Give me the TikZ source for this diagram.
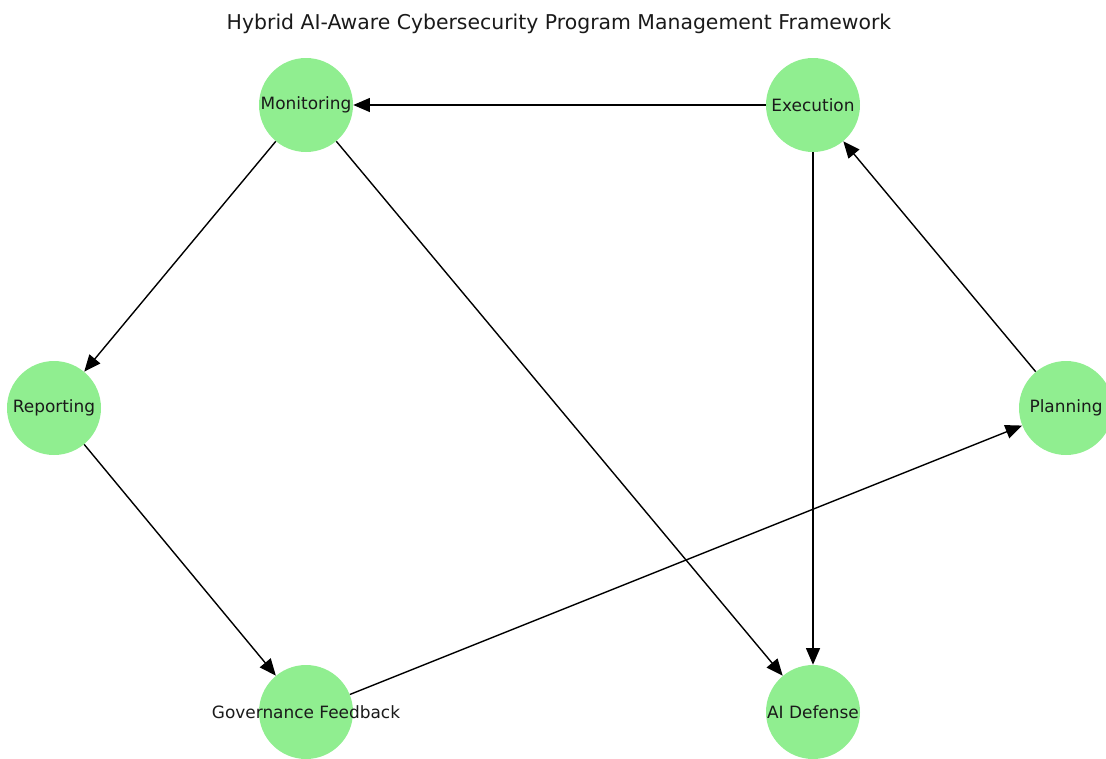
\documentclass[tikz,border=0pt]{standalone}
\usepackage{fontspec}
\setmainfont{DejaVu Sans}
\usetikzlibrary{arrows.meta}
\definecolor{nodegreen}{HTML}{90EE90}
\definecolor{inkgray}{HTML}{1A1A1A}
\tikzset{
  stage/.style = {circle, fill = nodegreen, draw = none, minimum size = 70.5pt, inner sep = 0pt},
  every label/.append style = {font = \fontsize{12.7}{15}\selectfont, text = inkgray},
  flow/.style = {line width = 1.05pt, -{Triangle[length = 12.5pt, width = 10.5pt]}},
}
\begin{document}
\begin{tikzpicture}[x = .75pt, y = -.75pt]
\useasboundingbox (0,0) rectangle (1106,758);
\begin{scope}
\clip (0,0) rectangle (1106,758);
\node[font = \fontsize{15.3}{18}\selectfont, text = inkgray] (title) at (559,24) {Hybrid AI-Aware Cybersecurity Program Management Framework};
% stages
\node[stage, label = {center:Monitoring}] (mon) at (306,105) {};
\node[stage, label = {center:Execution}] (exe) at (813,105) {};
\node[stage, label = {center:Reporting}] (rep) at (54,408) {};
\node[stage, label = {center:Planning}] (pla) at (1066,408) {};
\node[stage, label = {center:Governance Feedback}] (gov) at (306,712) {};
\node[stage, label = {center:AI Defense}] (aid) at (813,712) {};
% flows
\draw (exe) edge[flow] (mon);
\draw (mon) edge[flow] (rep);
\draw (mon) edge[flow] (aid);
\draw (exe) edge[flow] (aid);
\draw (pla) edge[flow] (exe);
\draw (rep) edge[flow] (gov);
\draw (gov) edge[flow] (pla);
\end{scope}
\end{tikzpicture}
\end{document}
